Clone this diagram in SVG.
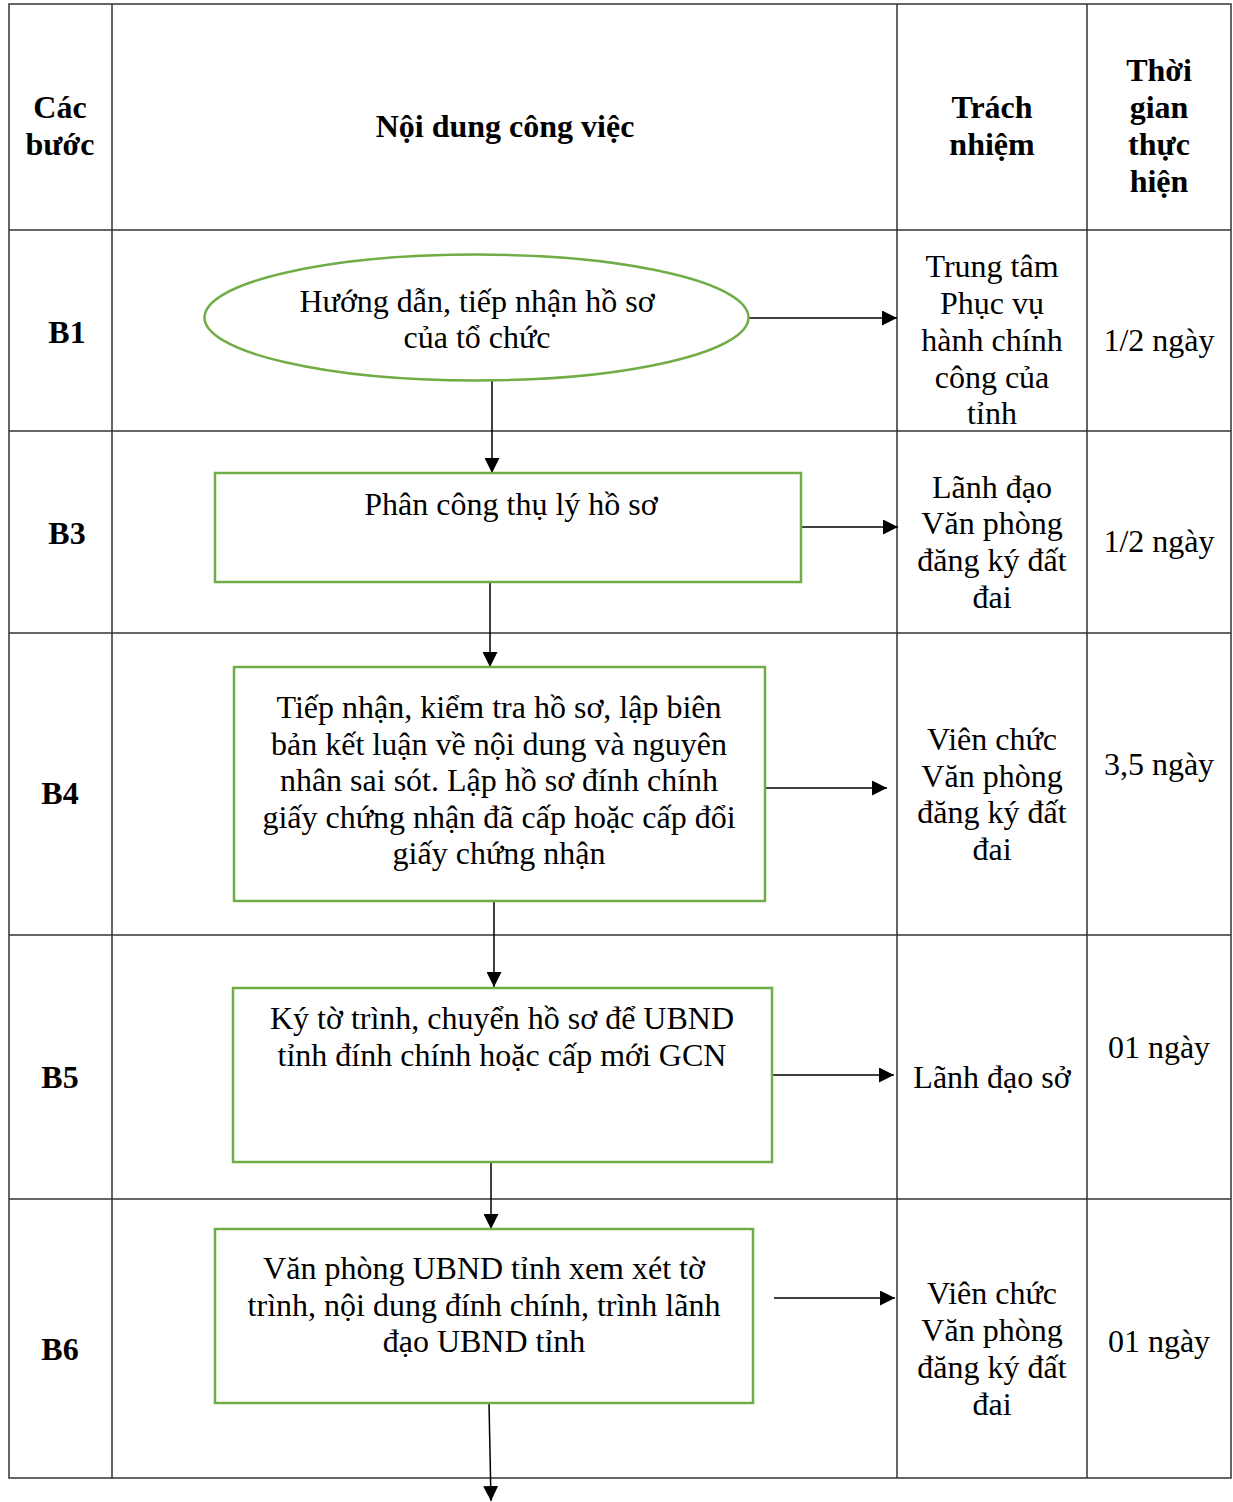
<svg xmlns="http://www.w3.org/2000/svg" width="1233" height="1502" viewBox="0 0 1233 1502">
<defs>
<marker id="ah" viewBox="0 0 10 10" refX="10" refY="5" markerWidth="15" markerHeight="15" markerUnits="userSpaceOnUse" orient="auto">
<path d="M0,0 L10,5 L0,10 z" fill="#000"/>
</marker>
<style>
.t{font-family:"Liberation Serif","Times New Roman",serif;font-size:32px;fill:#000;text-anchor:middle}
.h{font-family:"Liberation Serif","Times New Roman",serif;font-size:32px;font-weight:bold;fill:#000;text-anchor:middle}
.grid{stroke:#333;stroke-width:1.5;fill:none}
.node{fill:#fff;stroke:#70AD47;stroke-width:2.5}
.c{stroke:#000;stroke-width:1.5;fill:none;marker-end:url(#ah)}
</style>
</defs>
<rect width="1233" height="1502" fill="#fff"/>
<g id="table">
<rect class="grid" x="9" y="4" width="1222" height="1474"/>
<line class="grid" x1="112" y1="4" x2="112" y2="1478"/>
<line class="grid" x1="897" y1="4" x2="897" y2="1478"/>
<line class="grid" x1="1087" y1="4" x2="1087" y2="1478"/>
<line class="grid" x1="9" y1="230" x2="1231" y2="230"/>
<line class="grid" x1="9" y1="431" x2="1231" y2="431"/>
<line class="grid" x1="9" y1="633" x2="1231" y2="633"/>
<line class="grid" x1="9" y1="935" x2="1231" y2="935"/>
<line class="grid" x1="9" y1="1199" x2="1231" y2="1199"/>
</g>
<g id="header">
<text class="h" x="60" y="118">Các</text>
<text class="h" x="60" y="155">bước</text>
<text class="h" x="505" y="137">Nội dung công việc</text>
<text class="h" x="992" y="118">Trách</text>
<text class="h" x="992" y="155">nhiệm</text>
<text class="h" x="1159" y="81">Thời</text>
<text class="h" x="1159" y="118">gian</text>
<text class="h" x="1159" y="155">thực</text>
<text class="h" x="1159" y="192">hiện</text>
</g>
<g id="steps">
<text class="h" x="67" y="343">B1</text>
<text class="h" x="67" y="544">B3</text>
<text class="h" x="60" y="804">B4</text>
<text class="h" x="60" y="1088">B5</text>
<text class="h" x="60" y="1360">B6</text>
</g>
<g id="responsibility">
<text class="t" x="992" y="277">Trung tâm</text>
<text class="t" x="992" y="314">Phục vụ</text>
<text class="t" x="992" y="351">hành chính</text>
<text class="t" x="992" y="388">công của</text>
<text class="t" x="992" y="424">tỉnh</text>
<text class="t" x="992" y="498">Lãnh đạo</text>
<text class="t" x="992" y="534">Văn phòng</text>
<text class="t" x="992" y="571">đăng ký đất</text>
<text class="t" x="992" y="608">đai</text>
<text class="t" x="992" y="750">Viên chức</text>
<text class="t" x="992" y="787">Văn phòng</text>
<text class="t" x="992" y="823">đăng ký đất</text>
<text class="t" x="992" y="860">đai</text>
<text class="t" x="992" y="1088">Lãnh đạo sở</text>
<text class="t" x="992" y="1304">Viên chức</text>
<text class="t" x="992" y="1341">Văn phòng</text>
<text class="t" x="992" y="1378">đăng ký đất</text>
<text class="t" x="992" y="1415">đai</text>
</g>
<g id="time">
<text class="t" x="1159" y="351">1/2 ngày</text>
<text class="t" x="1159" y="552">1/2 ngày</text>
<text class="t" x="1159" y="775">3,5 ngày</text>
<text class="t" x="1159" y="1058">01 ngày</text>
<text class="t" x="1159" y="1352">01 ngày</text>
</g>
<g id="connectors">
<line class="c" x1="749" y1="318" x2="897" y2="318"/>
<line class="c" x1="492" y1="381" x2="492" y2="473"/>
<line class="c" x1="798" y1="527" x2="898" y2="527"/>
<line class="c" x1="765" y1="788" x2="887" y2="788"/>
<line class="c" x1="490" y1="582" x2="490" y2="667"/>
<line class="c" x1="494" y1="901" x2="494" y2="987"/>
<line class="c" x1="772" y1="1075" x2="894" y2="1075"/>
<line class="c" x1="491" y1="1162" x2="491" y2="1229"/>
<line class="c" x1="774" y1="1298" x2="895" y2="1298"/>
<line class="c" x1="489" y1="1403" x2="491" y2="1501"/>
</g>
<g id="n1">
<ellipse class="node" cx="476.5" cy="317.5" rx="272" ry="63"/>
<text class="t" x="477" y="312">Hướng dẫn, tiếp nhận hồ sơ</text>
<text class="t" x="477" y="348">của tổ chức</text>
</g>
<g id="n3">
<rect class="node" x="215" y="473" width="586" height="109"/>
<text class="t" x="511" y="515">Phân công thụ lý hồ sơ</text>
</g>
<g id="n4">
<rect class="node" x="234" y="667" width="531" height="234"/>
<text class="t" x="499" y="718">Tiếp nhận, kiểm tra hồ sơ, lập biên</text>
<text class="t" x="499" y="755">bản kết luận về nội dung và nguyên</text>
<text class="t" x="499" y="791">nhân sai sót. Lập hồ sơ đính chính</text>
<text class="t" x="499" y="828">giấy chứng nhận đã cấp hoặc cấp đổi</text>
<text class="t" x="499" y="864">giấy chứng nhận</text>
</g>
<g id="n5">
<rect class="node" x="233" y="988" width="539" height="174"/>
<text class="t" x="502" y="1029">Ký tờ trình, chuyển hồ sơ để UBND</text>
<text class="t" x="502" y="1066">tỉnh đính chính hoặc cấp mới GCN</text>
</g>
<g id="n6">
<rect class="node" x="215" y="1229" width="538" height="174"/>
<text class="t" x="484" y="1279">Văn phòng UBND tỉnh xem xét tờ</text>
<text class="t" x="484" y="1316">trình, nội dung đính chính, trình lãnh</text>
<text class="t" x="484" y="1352">đạo UBND tỉnh</text>
</g>
</svg>
